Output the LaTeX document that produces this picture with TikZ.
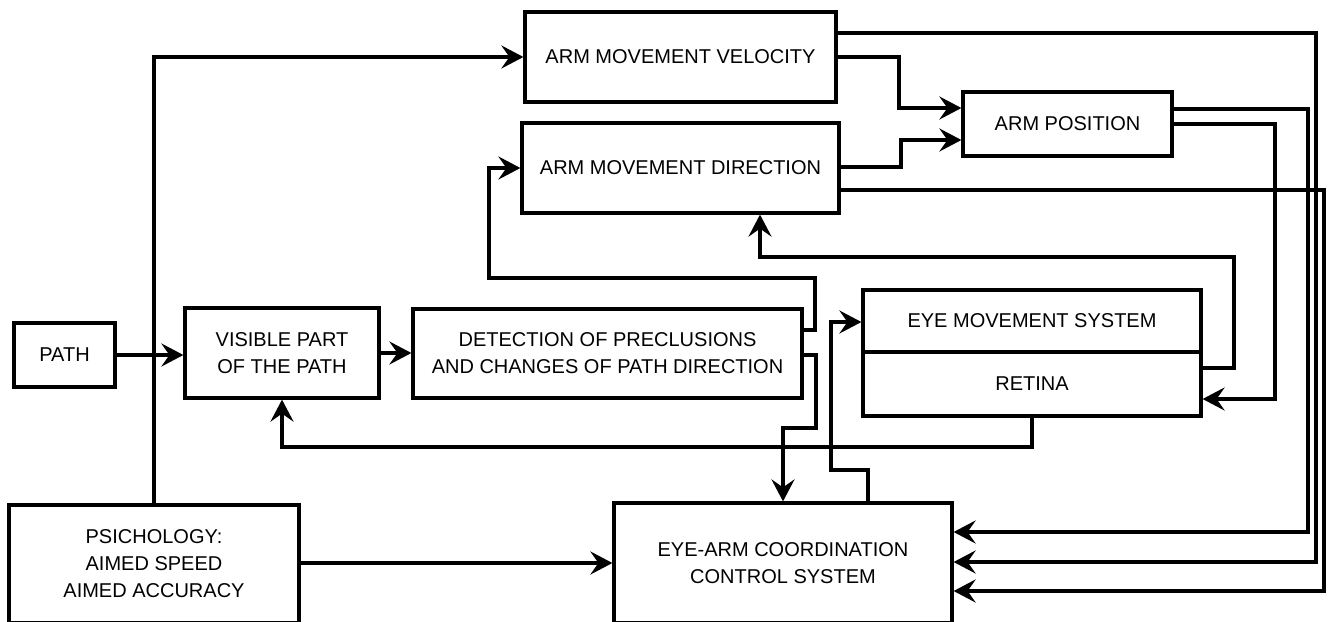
\documentclass[tikz,border=0pt]{standalone}
\usepackage{fontspec}
\setmainfont{Liberation Sans}
\usetikzlibrary{arrows.meta}
\begin{document}
\begin{tikzpicture}[x=1pt,y=-1pt,
  box/.style={draw=black, line width=3.2pt, rectangle, inner sep=0pt, align=center,
    font=\fontsize{20}{27}\selectfont},
  conn/.style={draw=black, line width=3.2pt, -{Stealth[length=22pt,width=23pt,inset=8pt]}},
  plain/.style={draw=black, line width=3.2pt}]
\useasboundingbox (0,0) rectangle (1329,621);
% boxes
\node[box, minimum width=101pt, minimum height=64pt] (path) at (64.5,355) {PATH};
\node[box, minimum width=194pt, minimum height=90pt] (vis) at (282,353) {VISIBLE PART\\OF THE PATH};
\node[box, minimum width=389pt, minimum height=89pt] (det) at (607.5,353.5) {DETECTION OF PRECLUSIONS\\AND CHANGES OF PATH DIRECTION};
\node[box, minimum width=311pt, minimum height=90pt] (vel) at (680.5,57) {ARM MOVEMENT VELOCITY};
\node[box, minimum width=317pt, minimum height=90pt] (amd) at (680.5,168) {ARM MOVEMENT DIRECTION};
\node[box, minimum width=209pt, minimum height=64pt] (apos) at (1067.5,124) {ARM POSITION};
\node[box, minimum width=338pt, minimum height=62pt] (eye) at (1032,321) {EYE MOVEMENT SYSTEM};
\node[box, minimum width=338pt, minimum height=64pt] (ret) at (1032,384) {RETINA};
\node[box, minimum width=290pt, minimum height=118pt] (psy) at (154,564) {PSICHOLOGY:\\AIMED SPEED\\AIMED ACCURACY};
\node[box, minimum width=338pt, minimum height=120pt] (eac) at (783,563) {EYE-ARM COORDINATION\\CONTROL SYSTEM};
% connectors
\draw[conn] (path.east) -- (path.east -| vis.west);
\draw[conn] (vis.east) -- (vis.east -| det.west);
\draw[conn] (psy.north) |- (vel.west);
\draw[conn] (psy.east |- 0,563) -- (eac.west |- 0,563);
\draw[conn] (det.east |- 0,330) -- (815,330) -- (815,278) -- (489,278) |- (amd.west);
\draw[conn] (det.east |- 0,355) -- (816,355) -- (816,428) -- (783,428) -- (eac.north);
\draw[conn] (vel.east) -- (899,57) -- (899,108) -- (apos.west |- 0,108);
\draw[conn] (amd.east |- 0,167) -- (901,167) -- (901,140) -- (apos.west |- 0,140);
\draw[conn] (vel.east |- 0,33) -- (1316,33) -- (1316,562) -- (eac.east |- 0,562);
\draw[conn] (apos.east |- 0,109) -- (1308,109) -- (1308,532) -- (eac.east |- 0,532);
\draw[conn] (amd.east |- 0,190) -- (1324,190) -- (1324,591) -- (eac.east |- 0,591);
\draw[conn] (apos.east |- 0,124) -- (1275,124) -- (1275,399) -- (ret.east |- 0,399);
\draw[conn] (ret.east |- 0,368) -- (1234,368) -- (1234,257) -- (760,257) -- (amd.south -| 760,0);
\draw[conn] (ret.south) -- (1032,447) -- (282,447) -- (vis.south);
\draw[conn] (eac.north -| 868,0) -- (868,470) -- (831,470) -- (831,322) -- (eye.west |- 0,322);
\end{tikzpicture}
\end{document}
